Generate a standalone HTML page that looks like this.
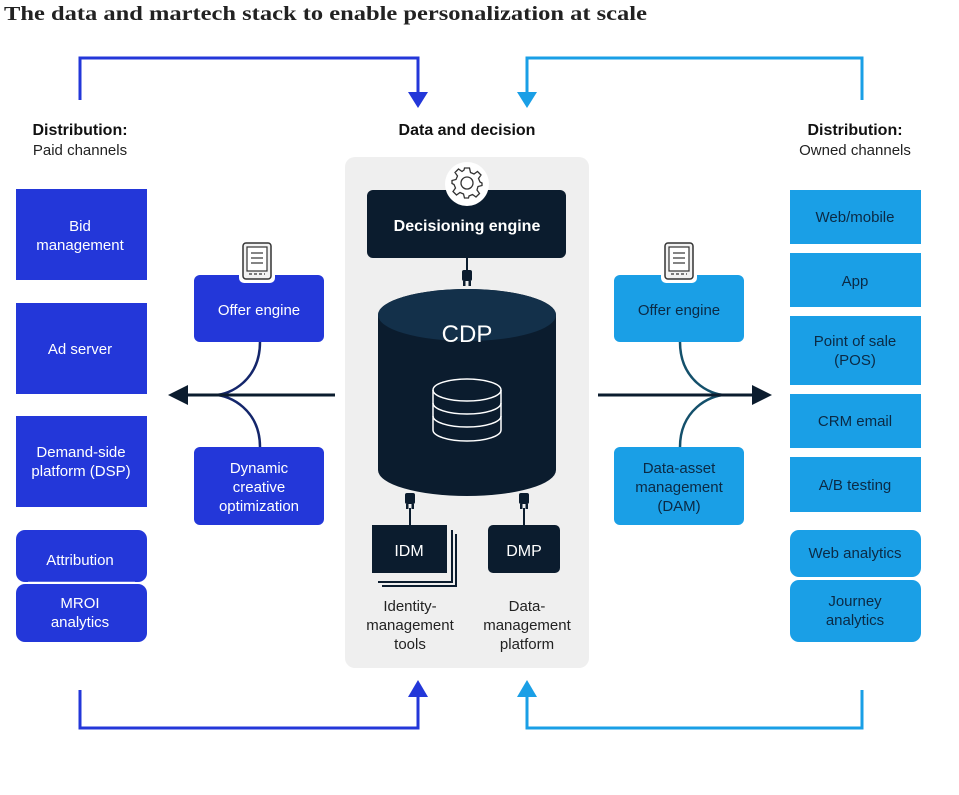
<!DOCTYPE html>
<html><head><meta charset="utf-8"><style>
body{margin:0;background:#fff;}
svg text{font-family:"Liberation Sans",sans-serif;}
</style></head><body>
<svg width="959" height="790" viewBox="0 0 959 790" xmlns="http://www.w3.org/2000/svg">
<defs>
<g id="plug"><rect x="-5" y="0" width="10" height="11" rx="2" fill="#0b1c2e"/><rect x="-4" y="11" width="2.5" height="5" fill="#0b1c2e"/><rect x="1.5" y="11" width="2.5" height="5" fill="#0b1c2e"/></g>
<g id="tab"><rect x="-18" y="-38" width="36" height="44" rx="5" fill="#fff"/><rect x="-14" y="-34" width="28" height="36" rx="3" fill="#f2f2f2" stroke="#333" stroke-width="1.5"/><rect x="-10" y="-30" width="20" height="24" fill="#fff" stroke="#333" stroke-width="1.2"/><line x1="-6" y1="-24" x2="6" y2="-24" stroke="#333" stroke-width="1.2"/><line x1="-6" y1="-19" x2="6" y2="-19" stroke="#333" stroke-width="1.2"/><line x1="-6" y1="-14" x2="6" y2="-14" stroke="#333" stroke-width="1.2"/><line x1="-8" y1="-3" x2="8" y2="-3" stroke="#333" stroke-width="1.2" stroke-dasharray="3 2"/></g>
</defs>
<text x="4" y="20" font-size="20" font-weight="bold" fill="#222" textLength="643" lengthAdjust="spacingAndGlyphs" style="font-family:'Liberation Serif',serif">The data and martech stack to enable personalization at scale</text>

<!-- top/bottom connectors -->
<polyline points="80,100 80,58 418,58 418,98" fill="none" stroke="#2337d9" stroke-width="3"/>
<polygon points="408,92 428,92 418,108" fill="#2337d9"/>
<polyline points="862,100 862,58 527,58 527,98" fill="none" stroke="#1a9fe6" stroke-width="3"/>
<polygon points="517,92 537,92 527,108" fill="#1a9fe6"/>
<polyline points="80,690 80,728 418,728 418,690" fill="none" stroke="#2337d9" stroke-width="3"/>
<polygon points="408,697 428,697 418,680" fill="#2337d9"/>
<polyline points="862,690 862,728 527,728 527,690" fill="none" stroke="#1a9fe6" stroke-width="3"/>
<polygon points="517,697 537,697 527,680" fill="#1a9fe6"/>

<!-- headers -->
<text x="80" y="135" font-size="16" font-weight="bold" text-anchor="middle" fill="#111">Distribution:</text>
<text x="80" y="155" font-size="15" text-anchor="middle" fill="#222">Paid channels</text>
<text x="467" y="135" font-size="16" font-weight="bold" text-anchor="middle" fill="#111">Data and decision</text>
<text x="855" y="135" font-size="16" font-weight="bold" text-anchor="middle" fill="#111">Distribution:</text>
<text x="855" y="155" font-size="15" text-anchor="middle" fill="#222">Owned channels</text>

<!-- left boxes -->
<g fill="#2337d9">
<rect x="16" y="189" width="131" height="91"/>
<rect x="16" y="303" width="131" height="91"/>
<rect x="16" y="416" width="131" height="91"/>
<rect x="16" y="530" width="131" height="52" rx="9"/>
<rect x="16" y="584" width="131" height="58" rx="9"/>
</g>
<line x1="28" y1="582.5" x2="135" y2="582.5" stroke="#fff" stroke-width="1.5"/>
<g fill="#fff" font-size="15" text-anchor="middle">
<text x="80" y="231">Bid</text><text x="80" y="250">management</text>
<text x="80" y="354">Ad server</text>
<text x="81" y="457">Demand-side</text><text x="81" y="476">platform (DSP)</text>
<text x="80" y="565">Attribution</text>
<text x="80" y="608">MROI</text><text x="80" y="627">analytics</text>
</g>

<!-- right boxes -->
<g fill="#1a9fe6">
<rect x="790" y="190" width="131" height="54"/>
<rect x="790" y="253" width="131" height="54"/>
<rect x="790" y="316" width="131" height="69"/>
<rect x="790" y="394" width="131" height="54"/>
<rect x="790" y="457" width="131" height="55"/>
<rect x="790" y="530" width="131" height="47" rx="9"/>
<rect x="790" y="580" width="131" height="62" rx="9"/>
</g>
<line x1="802" y1="578" x2="909" y2="578" stroke="#fff" stroke-width="1.5"/>
<g fill="#0b2a45" font-size="15" text-anchor="middle">
<text x="855" y="222">Web/mobile</text>
<text x="855" y="286">App</text>
<text x="855" y="346">Point of sale</text><text x="855" y="365">(POS)</text>
<text x="855" y="426">CRM email</text>
<text x="855" y="490">A/B testing</text>
<text x="855" y="558">Web analytics</text>
<text x="855" y="606">Journey</text><text x="855" y="625">analytics</text>
</g>

<!-- left middle -->
<rect x="194" y="275" width="130" height="67" rx="6" fill="#2337d9"/>
<rect x="194" y="447" width="130" height="78" rx="6" fill="#2337d9"/>
<use href="#tab" x="257" y="277"/>
<text x="259" y="315" font-size="15" fill="#fff" text-anchor="middle">Offer engine</text>
<g fill="#fff" font-size="15" text-anchor="middle"><text x="259" y="473">Dynamic</text><text x="259" y="492">creative</text><text x="259" y="511">optimization</text></g>
<path d="M260,342 C260,380 230,395 215,395" fill="none" stroke="#14266b" stroke-width="2.5"/>
<path d="M260,447 C260,410 230,395 215,395" fill="none" stroke="#14266b" stroke-width="2.5"/>
<line x1="335" y1="395" x2="182" y2="395" stroke="#0b1c2e" stroke-width="3"/>
<polygon points="168,395 188,385 188,405" fill="#0b1c2e"/>

<!-- right middle -->
<rect x="614" y="275" width="130" height="67" rx="6" fill="#1a9fe6"/>
<rect x="614" y="447" width="130" height="78" rx="6" fill="#1a9fe6"/>
<use href="#tab" x="679" y="277"/>
<text x="679" y="315" font-size="15" fill="#0b2a45" text-anchor="middle">Offer engine</text>
<g fill="#0b2a45" font-size="15" text-anchor="middle"><text x="679" y="473">Data-asset</text><text x="679" y="492">management</text><text x="679" y="511">(DAM)</text></g>
<path d="M680,342 C680,380 710,395 725,395" fill="none" stroke="#14506b" stroke-width="2.5"/>
<path d="M680,447 C680,410 710,395 725,395" fill="none" stroke="#14506b" stroke-width="2.5"/>
<line x1="598" y1="395" x2="758" y2="395" stroke="#0b1c2e" stroke-width="3"/>
<polygon points="772,395 752,385 752,405" fill="#0b1c2e"/>

<!-- center panel -->
<rect x="345" y="157" width="244" height="511" rx="10" fill="#efefef"/>
<rect x="367" y="190" width="199" height="68" rx="6" fill="#0b1c2e"/>
<circle cx="467" cy="184" r="22" fill="#fff"/>
<g transform="translate(467,183)" fill="none" stroke="#333" stroke-width="1.3">
<circle r="6"/>
<path d="M-2.5,-15 L2.5,-15 L3.5,-10.5 L7,-9 L10.5,-11.5 L14,-8 L11.5,-4.5 L13,-1 L15,0 L15,2.5 L11,3.5 L10,7 L12.5,10.5 L9,14 L5.5,11.5 L2,13 L1.5,15 L-2.5,15 L-3.5,11 L-7,9.5 L-10.5,12 L-14,8.5 L-11.5,5 L-13,1.5 L-15,0.5 L-15,-2.5 L-11,-3.5 L-9.5,-7 L-12,-10.5 L-8.5,-14 L-5,-11.5 L-3,-13 Z"/>
</g>
<text x="467" y="231" font-size="16" font-weight="bold" fill="#fff" text-anchor="middle">Decisioning engine</text>
<line x1="467" y1="258" x2="467" y2="272" stroke="#0b1c2e" stroke-width="2"/>
<use href="#plug" x="467" y="270"/>

<!-- cylinder -->
<path d="M378,315 A89,26 0 0 1 556,315 L556,470 A89,26 0 0 1 378,470 Z" fill="#0b1c2e"/>
<ellipse cx="467" cy="315" rx="89" ry="26" fill="#13304a"/>
<text x="467" y="342" font-size="24" fill="#fff" text-anchor="middle">CDP</text>
<g fill="none" stroke="#fff" stroke-width="1.5">
<ellipse cx="467" cy="390" rx="34" ry="11"/>
<path d="M433,390 L433,430 A34,11 0 0 0 501,430 L501,390"/>
<path d="M433,403 A34,11 0 0 0 501,403"/>
<path d="M433,416 A34,11 0 0 0 501,416"/>
</g>

<!-- IDM DMP -->
<use href="#plug" x="410" y="493"/>
<line x1="410" y1="508" x2="410" y2="525" stroke="#0b1c2e" stroke-width="2"/>
<use href="#plug" x="524" y="493"/>
<line x1="524" y1="508" x2="524" y2="525" stroke="#0b1c2e" stroke-width="2"/>
<polyline points="452,530 452,582 378,582" fill="none" stroke="#0b1c2e" stroke-width="2"/>
<polyline points="456,534 456,586 382,586" fill="none" stroke="#0b1c2e" stroke-width="2"/>
<rect x="372" y="525" width="75" height="48" fill="#0b1c2e"/>
<rect x="488" y="525" width="72" height="48" rx="5" fill="#0b1c2e"/>
<text x="409" y="556" font-size="16" fill="#fff" text-anchor="middle">IDM</text>
<text x="524" y="556" font-size="16" fill="#fff" text-anchor="middle">DMP</text>
<g font-size="15" fill="#222" text-anchor="middle">
<text x="410" y="611">Identity-</text><text x="410" y="630">management</text><text x="410" y="649">tools</text>
<text x="527" y="611">Data-</text><text x="527" y="630">management</text><text x="527" y="649">platform</text>
</g>
</svg>
</body></html>
